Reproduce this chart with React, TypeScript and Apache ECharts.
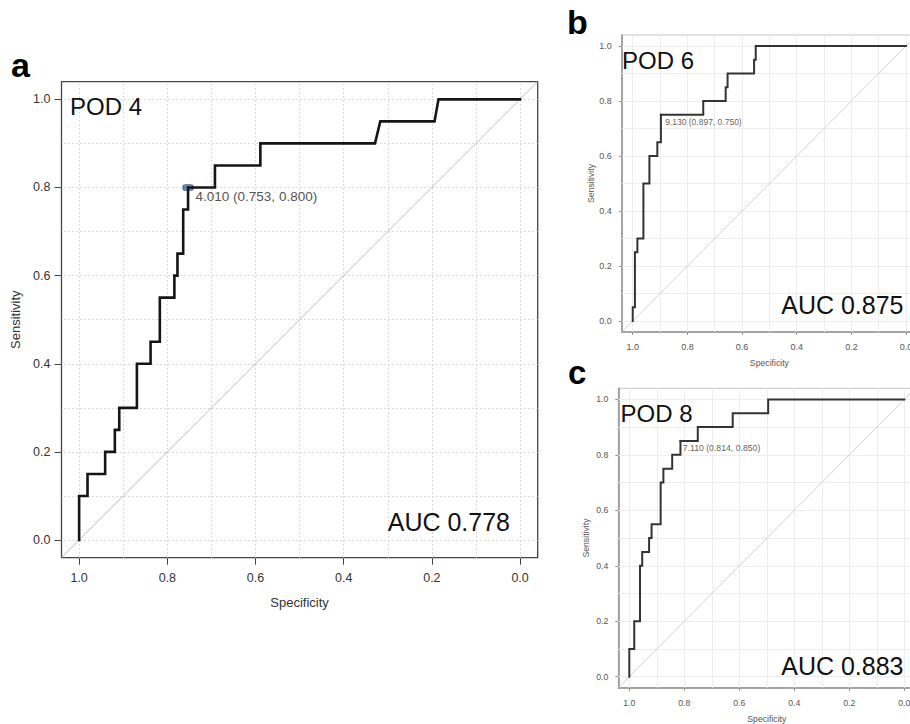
import React, { useEffect, useRef } from 'react';
import * as echarts from 'echarts';

const FONT = "'Liberation Sans', Arial, Helvetica, sans-serif";

// axis ticks and grid lines
const tickValues = [0, 0.2, 0.4, 0.6, 0.8, 1.0];
const gridValues = [0, 0.1, 0.2, 0.3, 0.4, 0.5, 0.6, 0.7, 0.8, 0.9, 1.0];
const axisRange = [-0.04, 1.04];

// ROC points (specificity, sensitivity) - POD 4
const pod4Spec = [1, 1, 0.981, 0.981, 0.941, 0.941, 0.919, 0.919, 0.909, 0.909, 0.869, 0.869, 0.838, 0.838, 0.817, 0.817, 0.784, 0.784, 0.777, 0.777, 0.764, 0.764, 0.753, 0.753, 0.692, 0.692, 0.589, 0.589, 0.329, 0.317, 0.194, 0.185, 0];
const pod4Sens = [0, 0.10, 0.10, 0.15, 0.15, 0.20, 0.20, 0.25, 0.25, 0.30, 0.30, 0.40, 0.40, 0.45, 0.45, 0.55, 0.55, 0.60, 0.60, 0.65, 0.65, 0.75, 0.75, 0.80, 0.80, 0.85, 0.85, 0.90, 0.90, 0.95, 0.95, 1.0, 1.0];

// POD 6
const pod6Spec = [1, 1, 0.992, 0.992, 0.983, 0.983, 0.961, 0.961, 0.939, 0.939, 0.910, 0.910, 0.897, 0.897, 0.742, 0.742, 0.660, 0.660, 0.653, 0.653, 0.556, 0.556, 0.550, 0.550, 0];
const pod6Sens = [0, 0.05, 0.05, 0.25, 0.25, 0.30, 0.30, 0.50, 0.50, 0.60, 0.60, 0.65, 0.65, 0.75, 0.75, 0.80, 0.80, 0.85, 0.85, 0.90, 0.90, 0.95, 0.95, 1.0, 1.0];

// POD 8
const pod8Spec = [1, 1, 0.982, 0.982, 0.961, 0.961, 0.953, 0.953, 0.928, 0.928, 0.919, 0.919, 0.886, 0.886, 0.876, 0.876, 0.844, 0.844, 0.814, 0.814, 0.751, 0.751, 0.624, 0.624, 0.495, 0.495, 0];
const pod8Sens = [0, 0.10, 0.10, 0.20, 0.20, 0.40, 0.40, 0.45, 0.45, 0.50, 0.50, 0.55, 0.55, 0.70, 0.70, 0.75, 0.75, 0.80, 0.80, 0.85, 0.85, 0.90, 0.90, 0.95, 0.95, 1.0, 1.0];

const podLabels = ['POD 4', 'POD 6', 'POD 8'];
const panelLetters = ['a', 'b', 'c'];
const aucValues = [0.778, 0.875, 0.883];
const thresholds = [4.010, 9.130, 7.110];
const thresholdSpec = [0.753, 0.897, 0.814];
const thresholdSens = [0.800, 0.750, 0.850];

const specs = [pod4Spec, pod6Spec, pod8Spec];
const senss = [pod4Sens, pod6Sens, pod8Sens];

interface PanelStyle {
  grid: { left: number; top: number; width: number; height: number };
  border: string; borderWidth: number;
  axisLine: boolean; axisColor: string; axisWidth: number;
  tickLen: number; tickColor: string;
  labelSize: number; labelColor: string; xLabelMargin: number; yLabelMargin: number;
  nameSize: number; nameColor: string; xNameGap: number; yNameGap: number;
  gridLine: any;
  curveColor: string; curveWidth: number;
  diagColor: string;
  thrSize: number; thrColor: string; thrSymbol: string; thrSymbolSize: any; thrItem: any; thrDist: number; thrOffset: number[];
  pod: { x: number; y: number; size: number };
  auc: { x: number; y: number; size: number };
  letter: { x: number; y: number; size: number };
}

const styles: PanelStyle[] = [
  {
    grid: { left: 61.5, top: 81.7, width: 476.2, height: 476 },
    border: '#444', borderWidth: 1.3,
    axisLine: false, axisColor: '#444', axisWidth: 1,
    tickLen: 7, tickColor: '#444',
    labelSize: 12.5, labelColor: '#333', xLabelMargin: 14, yLabelMargin: 11,
    nameSize: 13, nameColor: '#333', xNameGap: 38, yNameGap: 37,
    gridLine: { color: '#cfcfcf', width: 1, type: [1.5, 2.5] },
    curveColor: '#151515', curveWidth: 2.6,
    diagColor: '#bdbdbd',
    thrSize: 13.5, thrColor: '#222', thrSymbol: 'roundRect', thrSymbolSize: [10, 6],
    thrItem: { color: '#3f6aa8', borderColor: '#243f6b', borderWidth: 0.8 }, thrDist: 2, thrOffset: [0, 9],
    pod: { x: 70, y: 106, size: 24 },
    auc: { x: 510, y: 521.7, size: 25 },
    letter: { x: 11, y: 64.5, size: 34 },
  },
  {
    grid: { left: 621.8, top: 35, width: 295.2, height: 297 },
    border: '#c4c4c4', borderWidth: 1,
    axisLine: true, axisColor: '#8f8f8f', axisWidth: 1.5,
    tickLen: 3, tickColor: '#8f8f8f',
    labelSize: 9, labelColor: '#555', xLabelMargin: 10, yLabelMargin: 10,
    nameSize: 8.7, nameColor: '#555', xNameGap: 26, yNameGap: 26,
    gridLine: { color: '#ededed', width: 1, type: 'solid' },
    curveColor: '#333', curveWidth: 2,
    diagColor: '#d2d2d2',
    thrSize: 8.5, thrColor: '#333', thrSymbol: 'circle', thrSymbolSize: 2.5,
    thrItem: { color: '#333' }, thrDist: 3, thrOffset: [0, 7],
    pod: { x: 622, y: 60, size: 24 },
    auc: { x: 903.5, y: 305, size: 25 },
    letter: { x: 567, y: 22, size: 34 },
  },
  {
    grid: { left: 618.3, top: 388.3, width: 297, height: 299.5 },
    border: '#c4c4c4', borderWidth: 1,
    axisLine: true, axisColor: '#8f8f8f', axisWidth: 1.5,
    tickLen: 3, tickColor: '#8f8f8f',
    labelSize: 8.7, labelColor: '#555', xLabelMargin: 11, yLabelMargin: 10,
    nameSize: 8.7, nameColor: '#555', xNameGap: 27, yNameGap: 28,
    gridLine: { color: '#ededed', width: 1, type: 'solid' },
    curveColor: '#333', curveWidth: 2,
    diagColor: '#d2d2d2',
    thrSize: 8.7, thrColor: '#333', thrSymbol: 'circle', thrSymbolSize: 2.5,
    thrItem: { color: '#333' }, thrDist: 1, thrOffset: [0, 7],
    pod: { x: 620.5, y: 413, size: 24 },
    auc: { x: 903.5, y: 665.7, size: 25 },
    letter: { x: 568, y: 372.2, size: 33 },
  },
];

function buildOption() {
  const grid: any[] = [];
  const xAxis: any[] = [];
  const yAxis: any[] = [];
  const series: any[] = [];
  const graphic: any[] = [];

  styles.forEach((st, i) => {
    grid.push({
      ...st.grid,
      show: true,
      borderColor: st.border,
      borderWidth: st.borderWidth,
      backgroundColor: 'transparent',
      containLabel: false,
      outerBoundsMode: 'none',
    });

    const common = {
      type: 'value',
      gridIndex: i,
      min: axisRange[0],
      max: axisRange[1],
      nameLocation: 'middle',
      nameTextStyle: { fontSize: st.nameSize, color: st.nameColor, fontFamily: FONT },
      axisLine: { show: st.axisLine, onZero: false, lineStyle: { color: st.axisColor, width: st.axisWidth } },
      axisTick: { show: true, inside: false, length: st.tickLen, customValues: tickValues, lineStyle: { color: st.tickColor, width: 1 } },
      splitLine: { show: false },
    };

    xAxis.push({
      ...common,
      inverse: true,
      name: 'Specificity',
      nameGap: st.xNameGap,
      axisLabel: {
        customValues: tickValues,
        formatter: (v: number) => v.toFixed(1),
        margin: st.xLabelMargin,
        fontSize: st.labelSize,
        color: st.labelColor,
        fontFamily: FONT,
      },
    });
    yAxis.push({
      ...common,
      name: 'Sensitivity',
      nameGap: st.yNameGap,
      axisLabel: {
        customValues: tickValues,
        formatter: (v: number) => v.toFixed(1),
        margin: st.yLabelMargin,
        fontSize: st.labelSize,
        color: st.labelColor,
        fontFamily: FONT,
      },
    });

    // diagonal reference line + grid lines (markLine)
    series.push({
      type: 'line',
      xAxisIndex: i,
      yAxisIndex: i,
      data: [[axisRange[1], axisRange[0]], [axisRange[0], axisRange[1]]],
      showSymbol: false,
      symbol: 'none',
      silent: true,
      z: 2,
      lineStyle: { color: st.diagColor, width: 1 },
      markLine: {
        silent: true,
        z: 1,
        symbol: ['none', 'none'],
        label: { show: false },
        emphasis: { disabled: true },
        lineStyle: st.gridLine,
        data: [
          ...gridValues.map((v) => ({ xAxis: v })),
          ...gridValues.map((v) => ({ yAxis: v })),
        ],
      },
    });

    // ROC curve
    series.push({
      type: 'line',
      name: podLabels[i],
      xAxisIndex: i,
      yAxisIndex: i,
      data: specs[i].map((s, k) => [s, senss[i][k]]),
      showSymbol: false,
      symbol: 'none',
      z: 4,
      lineStyle: { color: st.curveColor, width: st.curveWidth, join: 'miter', cap: 'square' },
    });

    // best threshold
    const thrText = `${thresholds[i].toFixed(3)} (${thresholdSpec[i].toFixed(3)}, ${thresholdSens[i].toFixed(3)})`;
    series.push({
      type: 'scatter',
      xAxisIndex: i,
      yAxisIndex: i,
      data: [[thresholdSpec[i], thresholdSens[i]]],
      symbol: st.thrSymbol,
      symbolSize: st.thrSymbolSize,
      itemStyle: st.thrItem,
      z: 3,
      label: {
        show: true,
        position: 'right',
        distance: st.thrDist,
        offset: st.thrOffset,
        formatter: () => thrText,
        fontSize: st.thrSize,
        color: st.thrColor,
        fontFamily: FONT,
      },
    });

    graphic.push({
      type: 'text',
      x: st.pod.x,
      y: st.pod.y,
      z: 10,
      style: {
        text: podLabels[i],
        fontSize: st.pod.size,
        fontFamily: FONT,
        fill: '#111',
        align: 'left', textAlign: 'left',
        verticalAlign: 'middle', textVerticalAlign: 'middle',
      },
    });
    graphic.push({
      type: 'text',
      x: st.auc.x,
      y: st.auc.y,
      z: 10,
      style: {
        text: `AUC ${aucValues[i].toFixed(3)}`,
        fontSize: st.auc.size,
        fontFamily: FONT,
        fill: '#111',
        align: 'right', textAlign: 'right',
        verticalAlign: 'middle', textVerticalAlign: 'middle',
      },
    });
    graphic.push({
      type: 'text',
      x: st.letter.x,
      y: st.letter.y,
      z: 10,
      style: {
        text: panelLetters[i],
        fontSize: st.letter.size,
        fontWeight: 'bold',
        fontFamily: FONT,
        fill: '#000',
        align: 'left', textAlign: 'left',
        verticalAlign: 'middle', textVerticalAlign: 'middle',
      },
    });
  });

  return {
    animation: false,
    backgroundColor: '#ffffff',
    grid,
    xAxis,
    yAxis,
    series,
    graphic,
  };
}

export default function App() {
  const ref = useRef<HTMLDivElement>(null);
  useEffect(() => {
    document.body.style.margin = '0';
    document.body.style.overflow = 'hidden';
    if (!ref.current) return;
    const chart = echarts.init(ref.current, undefined, { renderer: 'svg' });
    chart.setOption(buildOption() as any);
    return () => {
      chart.dispose();
    };
  }, []);
  return <div ref={ref} style={{ width: 910, height: 724, background: '#fff' }} />;
}
